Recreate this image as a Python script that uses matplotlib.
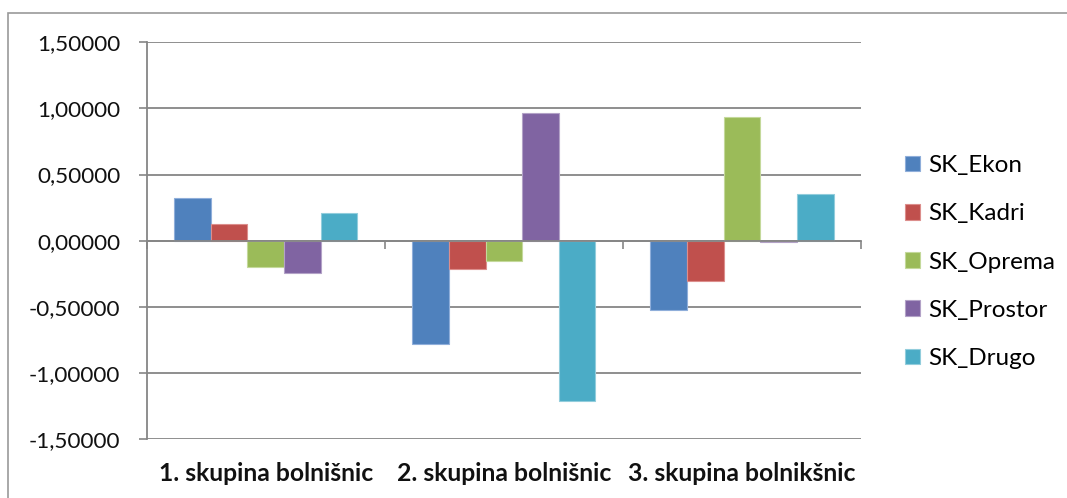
import matplotlib
matplotlib.use("Agg")
import matplotlib.pyplot as plt
from matplotlib.patches import Rectangle
from matplotlib.ticker import FuncFormatter, FixedLocator
from matplotlib.transforms import blended_transform_factory

# Data
categories = ["1. skupina bolnišnic", "2. skupina bolnišnic", "3. skupina bolnikšnic"]
series_names = ["SK_Ekon", "SK_Kadri", "SK_Oprema", "SK_Prostor", "SK_Drugo"]
sk_ekon = [0.322, -0.781, -0.527]
sk_kadri = [0.123, -0.212, -0.302]
sk_oprema = [-0.202, -0.154, 0.934]
sk_prostor = [-0.245, 0.967, -0.013]
sk_drugo = [0.209, -1.215, 0.355]
y_ticks = [-1.5, -1.0, -0.5, 0.0, 0.5, 1.0, 1.5]

series_values = [sk_ekon, sk_kadri, sk_oprema, sk_prostor, sk_drugo]
colors = ["#4F81BD", "#C0504D", "#9BBB59", "#8064A2", "#4BACC6"]
edges = ["#8FAEDA", "#DC8E8C", "#C4D99B", "#B3A2C7", "#92CDDC"]
grid_color = "#868686"

W, H, DPI = 1067, 498, 100
fig = plt.figure(figsize=(W / DPI, H / DPI), dpi=DPI)
plt.rcParams["font.family"] = ["Lato", "DejaVu Sans"]

# Chart frame
fig.patches.append(Rectangle((8 / W, -0.1), 1.2, 1 - 13 / H + 0.1,
                             transform=fig.transFigure, fill=False,
                             edgecolor="#9a9a9a", linewidth=1.2))

left, right, top, bottom = 146.7, 861, 42.3, 439
ax = fig.add_axes([left / W, 1 - bottom / H, (right - left) / W, (bottom - top) / H])

n = len(series_names)
bw = 1 / (n + 1.5)
for j, (name, vals) in enumerate(zip(series_names, series_values)):
    xs = [i + 0.5 + (j - (n - 1) / 2) * bw for i in range(len(categories))]
    ax.bar(xs, vals, width=bw, color=colors[j], edgecolor=edges[j],
           linewidth=0.8, label=name, zorder=3)

ax.set_xlim(0, len(categories))
ax.set_ylim(-1.5, 1.5)

# Value axis
ax.set_yticks(y_ticks)
ax.yaxis.set_major_formatter(FuncFormatter(
    lambda v, p: ("%.5f" % (0.0 if abs(v) < 1e-9 else v)).replace(".", ",")))
ax.tick_params(axis="y", direction="out", length=6, width=1.2, color=grid_color,
               labelsize=16.2, pad=13, labelcolor="#111111")
ax.grid(axis="y", color=grid_color, linewidth=1.3, zorder=0)
ax.set_axisbelow(True)

for s in ["top", "right"]:
    ax.spines[s].set_visible(False)
ax.spines["left"].set_color(grid_color)
ax.spines["left"].set_linewidth(1.3)

# Category axis crossing at zero
ax.spines["bottom"].set_position(("data", 0))
ax.spines["bottom"].set_color(grid_color)
ax.spines["bottom"].set_linewidth(1.3)
ax.spines["bottom"].set_zorder(4)
ax.xaxis.set_major_locator(FixedLocator(range(len(categories) + 1)))
ax.tick_params(axis="x", direction="out", length=6, width=1.2, color=grid_color,
               labelbottom=False)

trans = blended_transform_factory(ax.transData, fig.transFigure)
for i, c in enumerate(categories):
    ax.text(i + 0.5, 1 - 473 / H, c, transform=trans, ha="center", va="center",
            fontsize=17.8, fontweight="bold", color="#111111")

# Legend
fig.legend(loc="upper left", bbox_to_anchor=(893 / W, 1 - 143 / H),
           frameon=False, fontsize=17.5, handlelength=0.62, handleheight=0.62,
           handletextpad=0.32, labelspacing=1.12, borderpad=0)

fig.savefig("out.png", dpi=DPI)
